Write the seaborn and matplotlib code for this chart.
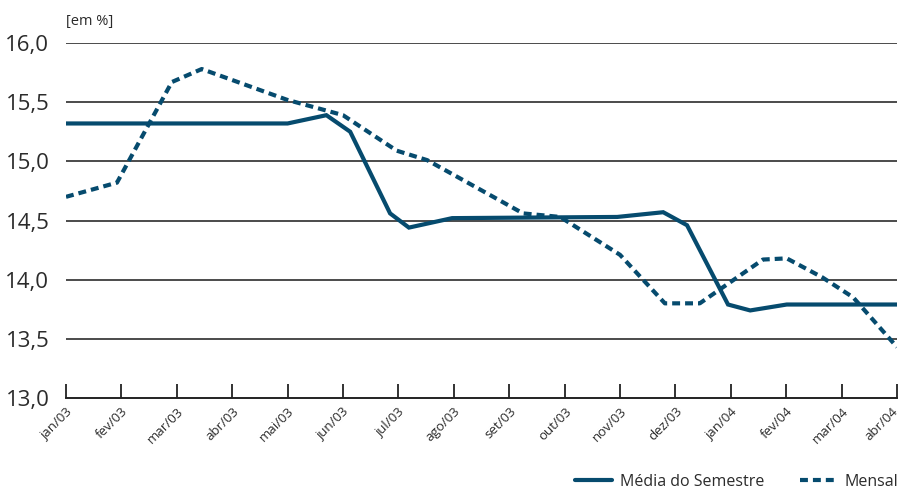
import matplotlib
matplotlib.use("Agg")
import matplotlib.pyplot as plt
import matplotlib.transforms as mtransforms
import seaborn as sns
import numpy as np
import pandas as pd

# Month labels (tick positions are month index 0..15)
months = ["jan/03", "fev/03", "mar/03", "abr/03", "mai/03", "jun/03", "jul/03", "ago/03",
          "set/03", "out/03", "nov/03", "dez/03", "jan/04", "fev/04", "mar/04", "abr/04"]

# Série "Média do Semestre" (x in fractional month index)
media_x = [0.0, 4.0, 4.7, 5.13, 5.85, 6.19, 6.97, 9.95, 10.78, 11.21, 11.95, 12.35, 13.01, 15.0]
media_y = [15.32, 15.32, 15.39, 15.25, 14.56, 14.44, 14.52, 14.53, 14.57, 14.46, 13.79, 13.74, 13.79, 13.79]

# Série "Mensal"
mensal_x = [0.0, 0.92, 1.91, 2.45, 3.99, 4.77, 5.0, 5.97, 6.52, 8.25, 8.92, 10.0, 10.81, 11.44,
            12.58, 13.01, 13.65, 14.21, 15.0]
mensal_y = [14.70, 14.82, 15.67, 15.78, 15.52, 15.42, 15.39, 15.09, 15.01, 14.56, 14.53, 14.21,
            13.80, 13.80, 14.17, 14.18, 14.02, 13.85, 13.43]

yticks = [13.0, 13.5, 14.0, 14.5, 15.0, 15.5, 16.0]

sns.set_style("white")
plt.rcParams['font.family'] = ['Open Sans', 'DejaVu Sans']

color = "#064b6e"
text_color = "#2b2b2b"

fig = plt.figure(figsize=(9.04, 4.93), dpi=100)
ax = fig.add_axes([66/904, 1 - 398/493, (897 - 66)/904, (398 - 43)/493])

# gridlines
for yv in yticks[1:]:
    ax.axhline(yv, color="#1a1a1a", lw=1.1, zorder=1)

sns.lineplot(x=media_x, y=media_y, ax=ax, color=color, lw=3.0, sort=False,
             label="Média do Semestre", zorder=3)
sns.lineplot(x=mensal_x, y=mensal_y, ax=ax, color=color, lw=3.0, sort=False,
             label="Mensal", zorder=3)
lines = ax.get_lines()
mline = lines[-1]
mline.set_dashes((1.9, 1.2))
mline.set_dash_capstyle("butt")
lines[-2].set_solid_joinstyle("miter")

ax.set_xlim(0, 15)
ax.set_ylim(13.0, 16.0)
ax.set_xticks(range(len(months)))
ax.set_xticklabels(months, rotation=45, ha="right", va="top", rotation_mode="anchor",
                   fontsize=9.5, color=text_color)
ax.set_yticks(yticks)
ax.set_yticklabels([f"{v:.1f}".replace(".", ",") for v in yticks], fontsize=16, color=text_color)
ax.tick_params(axis="x", direction="in", length=10, width=1.3, color="#222222", pad=5, bottom=True)
ax.tick_params(axis="y", length=0, pad=12)
for s in ["top", "right", "left"]:
    ax.spines[s].set_visible(False)
ax.spines["bottom"].set_color("#222222")
ax.spines["bottom"].set_linewidth(1.4)
ax.set_xlabel("")
ax.set_ylabel("")

# keep the last label inside the figure
last = ax.get_xticklabels()[-1]
last.set_transform(last.get_transform() + mtransforms.ScaledTranslation(-6/100, 0, fig.dpi_scale_trans))

fig.text(66/904, 1 - 22/493, "[em %]", fontsize=10.5, color=text_color, ha="left", va="center")

leg = ax.legend(loc="lower right", bbox_to_anchor=(0.997, 0.0), bbox_transform=fig.transFigure,
                ncol=2, frameon=False, fontsize=11.5, handlelength=2.3, handletextpad=0.5,
                columnspacing=2.2, borderaxespad=0.1, borderpad=0.1)
for t in leg.get_texts():
    t.set_color(text_color)

fig.savefig("out.png", dpi=100)
